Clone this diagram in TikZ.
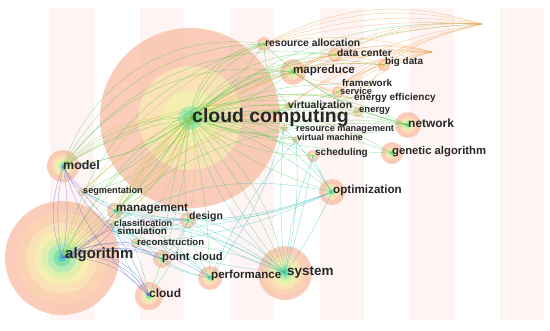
\documentclass[tikz,border=0pt]{standalone}
\usepackage{fontspec}
\setmainfont{Liberation Sans}
\usetikzlibrary{arrows.meta}
\definecolor{stripe}{HTML}{FFF4F4}
\definecolor{r1}{HTML}{F9C7B1}
\definecolor{r2}{HTML}{FAD3B3}
\definecolor{r3}{HTML}{FBE1B6}
\definecolor{r4}{HTML}{F6EDB0}
\definecolor{r5}{HTML}{DDF0AE}
\definecolor{r6}{HTML}{B5ECB5}
\definecolor{r7}{HTML}{84E2A4}
\definecolor{r8}{HTML}{4FC9D6}
\definecolor{grn}{HTML}{52C852}
\definecolor{org}{HTML}{F49A40}
\definecolor{ylg}{HTML}{C0C448}
\definecolor{cyn}{HTML}{30C4BC}
\definecolor{blu}{HTML}{6060E0}
\definecolor{txt}{HTML}{262626}
\newcommand\kwfs[1]{\fontsize{#1}{#1}\selectfont}
\newcommand\kwrings[2]{%
  \fill[r1,opacity=.9] (#1) circle[radius=#2];
  \foreach \c/\f in {r2/.8,r3/.62,r4/.48,r5/.36,r6/.25,r7/.15,r8/.07}{%
    \fill[\c] (#1) circle[radius=\f*#2];}}
\newcommand\kwsmall[2]{%
  \fill[r1,opacity=.9] (#1) circle[radius=#2];
  \foreach \c/\f in {r3/.6,r5/.38,r7/.2}{%
    \fill[\c] (#1) circle[radius=\f*#2];}}
\tikzset{
  lbl/.style={font=\bfseries, text=txt, inner sep=0pt, anchor=west},
  edge/.style={line width=0.4pt, opacity=.55},
}
\begin{document}
\begin{tikzpicture}[x=1bp,y=-1bp]
\useasboundingbox (0,0) rectangle (550,330);
% background stripes
\foreach \sx in {50,140,230,320,410,500}
  \fill[stripe] (\sx,8) rectangle (\sx+44,320);
% node centres
\coordinate (cc) at (190,118);
\coordinate (alg) at (62,258);
\coordinate (sys) at (285,273);
\coordinate (mod) at (63,166);
\coordinate (net) at (408,125);
\coordinate (ga) at (392,153);
\coordinate (opt) at (332,192);
\coordinate (mr) at (293,72);
\coordinate (ra) at (264,44);
\coordinate (dc) at (335,55);
\coordinate (bd) at (384,65);
\coordinate (fw) at (342,84);
\coordinate (svc) at (338,92);
\coordinate (ee) at (352,98);
\coordinate (en) at (358,112);
\coordinate (vir) at (289,106);
\coordinate (rm) at (284,128);
\coordinate (vm) at (296,140);
\coordinate (sch) at (313,156);
\coordinate (cld) at (149,296);
\coordinate (perf) at (210,278);
\coordinate (pc) at (162,259);
\coordinate (des) at (188,220);
\coordinate (mgt) at (115,211);
\coordinate (cls) at (111,224);
\coordinate (sim) at (112,231);
\coordinate (rec) at (136,243);
\coordinate (seg) at (82,192);
\coordinate (tr1) at (482,24);
\coordinate (tr2) at (432,52);
% circles
\fill[r1,opacity=.9] (cc) circle[radius=90];
\fill[r3] (cc) circle[radius=52];
\fill[r4] (cc) circle[radius=28];
\fill[r6] (cc) circle[radius=12];
\fill[r7] (cc) circle[radius=7];
\kwrings{alg}{57}
\kwrings{sys}{27}
\kwrings{mod}{16}
\kwsmall{net}{13}
\kwsmall{ga}{11}
\kwsmall{opt}{13}
\kwsmall{mr}{13}
\kwsmall{ra}{7}
\kwsmall{dc}{7}
\kwsmall{bd}{6}
\kwsmall{svc}{6}
\kwsmall{en}{5}
\kwsmall{vir}{4}
\kwsmall{rm}{4}
\kwsmall{vm}{4}
\kwsmall{sch}{6}
\kwsmall{cld}{14}
\kwsmall{perf}{12}
\kwsmall{pc}{9}
\kwsmall{des}{8}
\kwsmall{mgt}{8}
\kwsmall{cls}{5}
\kwsmall{rec}{5}
\kwsmall{seg}{4}
% edges
\foreach \a/\b/\bb in {cc/ra/20,cc/ra/-10,cc/mr/15,cc/mr/-10,cc/net/10,cc/net/-15,
  cc/ga/10,cc/ga/-8,cc/opt/12,cc/opt/-10,cc/sch/8,cc/vir/10,cc/rm/5,cc/vm/-5,
  cc/en/12,cc/ee/15,cc/fw/12,cc/svc/-10,cc/dc/18,cc/bd/20,cc/mod/15,cc/mod/-10,
  cc/alg/10,cc/alg/-15,cc/mgt/5,cc/des/-8,cc/sys/8,cc/sys/-6,cc/perf/5,cc/seg/10,
  cc/cld/8,cc/pc/-5,cc/tr1/15,cc/tr1/20,mod/ra/30,mod/mr/30,alg/mr/25,
  mod/cc/20,cc/ra/30,cc/mr/28,cc/net/25,cc/ga/20,rm/net/10,vir/ra/20,
  cc/sch/-15,cc/vm/15,cc/rm/-20,mod/net/25,alg/net/25,cc/opt/25,cc/sys/20,
  mr/net/-10,ra/net/-15,cc/dc/30,mod/dc/30,cc/bd/25,mod/ra/40,alg/ra/30,
  cc/ra/38,cc/vir/-20,cc/en/-10,cc/ee/-5,mod/cc/-15,seg/cc/-25,cc/mgt/25}
  \draw[edge,grn] (\a) to[bend left=\bb] (\b);
\foreach \a/\b/\bb in {mr/bd/10,mr/dc/15,dc/bd/10,ra/tr1/8,ra/tr1/13,
  mr/tr2/10,dc/tr2/8,fw/tr2/10,ee/tr2/15,bd/tr1/10,mr/tr1/12,fw/bd/10,
  svc/tr2/10,ra/tr2/12,cc/tr2/14,vir/tr2/16,mr/ee/-10,en/bd/10,
  ra/tr1/18,mr/tr1/17,dc/tr1/14,vir/tr1/15,mr/fw/-10,mr/svc/-10,cc/tr2/19,
  ra/tr1/22,mr/tr2/20,dc/tr2/16,svc/tr1/12,fw/tr1/12}
  \draw[edge,org] (\a) to[bend left=\bb] (\b);
\foreach \a/\b/\bb in {cc/alg/20,cc/mgt/-15,cc/cls/12,cc/sim/-12,cc/seg/-10,
  mgt/mr/20,alg/cc/-20,cc/rec/10,cc/des/12,alg/ra/25,mod/vir/20,alg/vir/25,
  mgt/vir/15,cls/mr/20,cc/mod/-25,alg/en/25,seg/ee/25,mgt/cc/10,sim/cc/15}
  \draw[edge,ylg] (\a) to[bend left=\bb] (\b);
\foreach \a/\b/\bb in {mgt/sys/10,des/sys/-10,rec/sys/12,cls/sys/15,sim/opt/-10,
  mgt/opt/-15,des/opt/-12,pc/perf/-10,rec/perf/-15,mgt/perf/10,des/perf/-10,
  cls/pc/10,sim/pc/-10,rm/opt/5,sch/opt/-5,vm/sys/8,rm/sys/-5,sch/sys/-8,
  cc/sys/-15,rec/opt/-10,mgt/des/-10,mgt/rec/10,sim/des/-15,des/cld/10,
  seg/des/-10,seg/mgt/10,cls/rec/-10,sim/perf/15,des/pc/10,opt/sys/5,
  sch/sys/4,rm/perf/10,vm/perf/-8,mgt/cld/10,cls/cld/-10,mgt/sys/25,
  rec/sys/-5,des/sys/5,cls/opt/20}
  \draw[edge,cyn] (\a) to[bend left=\bb] (\b);
\foreach \a/\b/\bb in {alg/pc/30,alg/pc/20,alg/rec/15,alg/perf/25,
  mod/alg/10,mod/alg/-10,alg/mgt/-15,alg/cls/-10,alg/sim/-20,mod/mgt/-15,
  mod/seg/-10,alg/des/20,mod/sim/-10,mod/alg/-20}
  \draw[edge,blu] (\a) to[bend left=\bb] (\b);
\foreach \a/\b/\bb in {alg/cld/25,alg/cld/35,mod/cld/-15,seg/cld/10,alg/cld/45}
  \draw[edge,blu,-{Stealth[length=3pt]}] (\a) to[bend left=\bb] (\b);
% labels
\node[lbl,font=\bfseries\kwfs{19.5}] (lcc) at (192,118) {cloud computing};
\node[lbl,font=\bfseries\kwfs{15}] (lalg) at (65,255) {algorithm};
\node[lbl,font=\bfseries\kwfs{13.5}] (lsys) at (287,272) {system};
\node[lbl,font=\bfseries\kwfs{12.5}] (lmod) at (63,165) {model};
\node[lbl,font=\bfseries\kwfs{12}] (lnet) at (408,123) {network};
\node[lbl,font=\bfseries\kwfs{11.3}] (lga) at (392,152) {genetic algorithm};
\node[lbl,font=\bfseries\kwfs{11.7}] (lopt) at (333,190) {optimization};
\node[lbl,font=\bfseries\kwfs{11.6}] (lmr) at (293,71) {mapreduce};
\node[lbl,font=\bfseries\kwfs{10.4}] (lra) at (265,43) {resource allocation};
\node[lbl,font=\bfseries\kwfs{10.3}] (ldc) at (337,53) {data center};
\node[lbl,font=\bfseries\kwfs{9.9}] (lbd) at (385,62) {big data};
\node[lbl,font=\bfseries\kwfs{9.9}] (lfw) at (342,83) {framework};
\node[lbl,font=\bfseries\kwfs{9.3}] (lsvc) at (340,91) {service};
\node[lbl,font=\bfseries\kwfs{10}] (lee) at (354,98) {energy efficiency};
\node[lbl,font=\bfseries\kwfs{10.4}] (lvir) at (288,105) {virtualization};
\node[lbl,font=\bfseries\kwfs{9.5}] (len) at (359,111) {energy};
\node[lbl,font=\bfseries\kwfs{9.2}] (lrm) at (296,129) {resource management};
\node[lbl,font=\bfseries\kwfs{9}] (lvm) at (297,137) {virtual machine};
\node[lbl,font=\bfseries\kwfs{10}] (lsch) at (315,153) {scheduling};
\node[lbl,font=\bfseries\kwfs{9.2}] (lseg) at (83,191) {segmentation};
\node[lbl,font=\bfseries\kwfs{11.7}] (lmgt) at (116,209) {management};
\node[lbl,font=\bfseries\kwfs{10.5}] (ldes) at (189,217) {design};
\node[lbl,font=\bfseries\kwfs{9.2}] (lcls) at (114,223) {classification};
\node[lbl,font=\bfseries\kwfs{10}] (lsim) at (117,231) {simulation};
\node[lbl,font=\bfseries\kwfs{9.6}] (lrec) at (137,242) {reconstruction};
\node[lbl,font=\bfseries\kwfs{11.3}] (lpc) at (162,258) {point cloud};
\node[lbl,font=\bfseries\kwfs{11.6}] (lperf) at (211,276) {performance};
\node[lbl,font=\bfseries\kwfs{12}] (lcld) at (149,293) {cloud};
\end{tikzpicture}
\end{document}
